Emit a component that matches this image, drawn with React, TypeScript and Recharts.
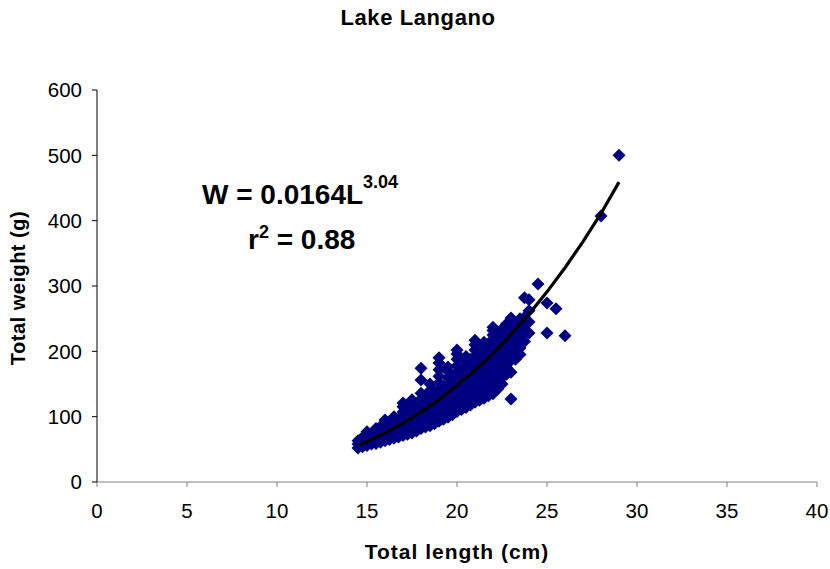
import React from "react";
import { ScatterChart, Scatter, XAxis, YAxis } from "recharts";

// Lengths (cm) where fish were measured, and the weights (g) read at each length
const columnLengths = [
  14.5, 14.75, 15, 15.25, 15.5, 15.75, 16, 16.25, 16.5, 16.75, 17, 17.25, 17.5,
  17.75, 18, 18.25, 18.5, 18.75, 19, 19.25, 19.5, 19.75, 20, 20.25, 20.5, 20.75,
  21, 21.25, 21.5, 21.75, 22, 22.25, 22.5, 22.75, 23, 23.25, 23.5, 23.75, 24,
  24.5, 25, 25.5, 26, 28, 29,
];
const columnWeights = [
  [52, 58, 63],
  [54, 61, 68],
  [56, 63, 70, 77],
  [58, 65, 72],
  [59, 66, 74, 82],
  [61, 69, 77, 85],
  [63, 71, 79, 87, 95],
  [65, 73, 81, 89],
  [67, 75, 83, 91, 100],
  [69, 78, 87, 96],
  [71, 80, 89, 98, 107, 115, 121],
  [73, 82, 91, 100, 109],
  [75, 84, 93, 102, 111, 120, 126],
  [78, 87, 96, 105, 114],
  [82, 91, 100, 109, 118, 127, 136, 156, 174],
  [84, 93, 102, 111, 120, 130],
  [86, 95, 104, 113, 122, 131, 140, 150],
  [89, 98, 108, 118, 128, 138],
  [93, 102, 112, 122, 132, 142, 152, 162, 172, 182, 190],
  [96, 106, 116, 126, 136, 146],
  [99, 109, 119, 129, 139, 149, 159, 169, 176],
  [103, 113, 123, 133, 143, 153, 163],
  [108, 118, 128, 138, 148, 158, 168, 178, 188, 196, 202],
  [111, 121, 131, 141, 151, 161, 172],
  [114, 124, 134, 144, 154, 164, 174, 184, 192],
  [118, 128, 138, 148, 158, 168, 178, 188],
  [122, 132, 142, 152, 162, 172, 182, 192, 202, 210, 217],
  [125, 135, 145, 155, 165, 175, 185, 195],
  [128, 138, 148, 158, 168, 178, 188, 198, 208, 214],
  [132, 142, 152, 162, 172, 182, 192, 202, 212],
  [135, 145, 155, 165, 175, 185, 195, 205, 215, 225, 232, 237],
  [142, 152, 162, 172, 182, 192, 202, 212, 220, 228],
  [150, 160, 170, 180, 190, 200, 210, 220, 228, 234],
  [165, 175, 185, 195, 205, 215, 225, 234, 242],
  [127, 168, 186, 196, 206, 216, 226, 236, 244, 251],
  [188, 198, 208, 218, 228, 236, 244],
  [195, 205, 215, 225, 235, 245, 250],
  [215, 228, 240, 252, 282],
  [228, 245, 262, 279],
  [303],
  [228, 274],
  [265],
  [224],
  [407],
  [500],
];

// Power trendline W = 0.0164 L^3.04
const trendLengths = [14.5, 15, 16, 17, 18, 19, 20, 21, 22, 23, 24, 25, 26, 27, 28, 29];
const trendWeights = [56, 62, 75, 90, 107, 126, 148, 171, 197, 226, 257, 291, 328, 368, 411, 459];

const xTicks = [0, 5, 10, 15, 20, 25, 30, 35, 40];
const yTicks = [0, 100, 200, 300, 400, 500, 600];

const FONT = '"Liberation Sans", Arial, Helvetica, sans-serif';
const MARKER = "#000080";

const fishPoints = columnLengths.flatMap((len, i) =>
  columnWeights[i].map((w) => ({ length: len, weight: w }))
);
const trendPoints = trendLengths.map((len, i) => ({ length: len, weight: trendWeights[i] }));

const Diamond = (props: any) => {
  const { cx, cy } = props;
  if (cx == null || cy == null) return <g />;
  const r = 6.5;
  return (
    <polygon
      points={`${cx},${cy - r} ${cx + r},${cy} ${cx},${cy + r} ${cx - r},${cy}`}
      fill={MARKER}
    />
  );
};

export default function App() {
  return (
    <div style={{ position: "absolute", left: 0, top: 0, width: 830, height: 569, background: "#fff" }}>
      <ScatterChart
        width={830}
        height={569}
        margin={{ top: 90, right: 13, bottom: 47, left: 0 }}
      >
        <XAxis
          type="number"
          dataKey="length"
          domain={[0, 40]}
          ticks={xTicks}
          allowDataOverflow
          height={40}
          stroke="#808080"
          tickSize={5}
          tickMargin={16}
          tick={{ fill: "#000", fontSize: 20.5, fontFamily: FONT }}
        />
        <YAxis
          type="number"
          dataKey="weight"
          domain={[0, 600]}
          ticks={yTicks}
          allowDataOverflow
          width={97}
          stroke="#000"
          tickSize={5}
          tickMargin={10}
          tick={{ fill: "#000", fontSize: 20.5, fontFamily: FONT }}
        />
        <Scatter
          data={fishPoints}
          shape={<Diamond />}
          isAnimationActive={false}
        />
        <Scatter
          data={trendPoints}
          line={{ stroke: "#000", strokeWidth: 3.2 }}
          lineType="joint"
          shape={() => <g />}
          isAnimationActive={false}
        />
      </ScatterChart>
      <svg
        width={830}
        height={569}
        style={{ position: "absolute", left: 0, top: 0, pointerEvents: "none" }}
      >
        <text x={418} y={25} textAnchor="middle" fontFamily={FONT} fontWeight="bold" fontSize={22} letterSpacing={0.6}>
          Lake Langano
        </text>
        <text x={202} y={204} fontFamily={FONT} fontWeight="bold" fontSize={28}>
          W = 0.0164L
          <tspan fontSize={18} dy={-16}>3.04</tspan>
        </text>
        <text x={248} y={249} fontFamily={FONT} fontWeight="bold" fontSize={28}>
          r
          <tspan fontSize={18} dy={-11}>2</tspan>
          <tspan dy={11}> = 0.88</tspan>
        </text>
        <text x={457} y={559} textAnchor="middle" fontFamily={FONT} fontWeight="bold" fontSize={21} letterSpacing={1}>
          Total length (cm)
        </text>
        <text
          x={0}
          y={0}
          transform="translate(25,288) rotate(-90)"
          textAnchor="middle"
          fontFamily={FONT}
          fontWeight="bold"
          fontSize={20}
          letterSpacing={0.5}
        >
          Total weight (g)
        </text>
      </svg>
    </div>
  );
}
